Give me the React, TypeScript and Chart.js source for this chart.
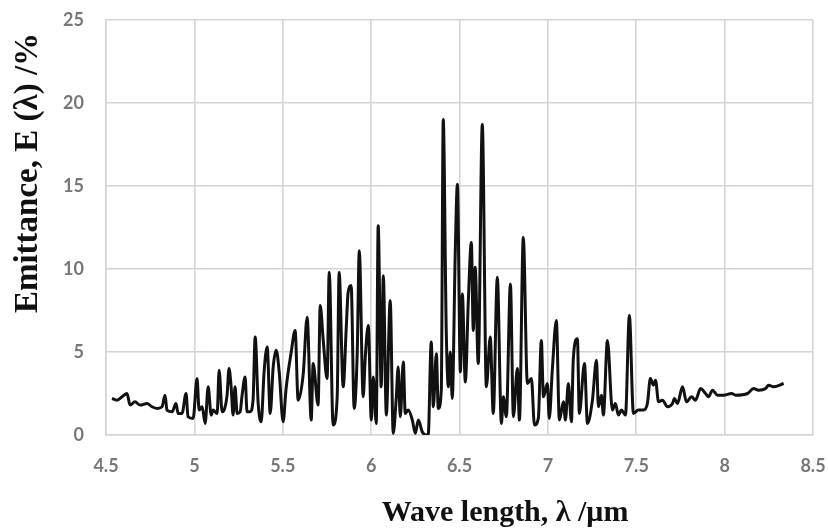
import React, { useEffect, useRef } from "react";
import { Chart, registerables } from "chart.js";

Chart.register(...registerables);

const wavelength: number[] = [
  4.534, 4.562, 4.591, 4.619, 4.636, 4.664, 4.693, 4.732, 4.76, 4.789, 4.817, 4.834, 4.845, 4.874, 4.896, 4.908,
  4.93, 4.953, 4.964, 4.993, 5.015, 5.027, 5.044, 5.061, 5.078, 5.095, 5.106, 5.129, 5.14, 5.157, 5.168, 5.185,
  5.196, 5.208, 5.219, 5.23, 5.242, 5.259, 5.27, 5.287, 5.298, 5.315, 5.332, 5.344, 5.361, 5.378, 5.395, 5.412,
  5.429, 5.446, 5.463, 5.48, 5.502, 5.519, 5.548, 5.57, 5.587, 5.616, 5.638, 5.661, 5.672, 5.7, 5.712, 5.729,
  5.751, 5.763, 5.785, 5.808, 5.819, 5.842, 5.859, 5.87, 5.887, 5.904, 5.921, 5.933, 5.955, 5.967, 5.984, 6.001,
  6.012, 6.029, 6.04, 6.057, 6.069, 6.086, 6.108, 6.125, 6.142, 6.153, 6.165, 6.182, 6.193, 6.21, 6.233, 6.25,
  6.267, 6.289, 6.312, 6.323, 6.34, 6.352, 6.369, 6.38, 6.397, 6.408, 6.425, 6.437, 6.448, 6.459, 6.476, 6.488,
  6.505, 6.516, 6.533, 6.55, 6.567, 6.578, 6.589, 6.606, 6.629, 6.652, 6.674, 6.691, 6.714, 6.737, 6.748, 6.765,
  6.788, 6.805, 6.827, 6.839, 6.861, 6.884, 6.907, 6.924, 6.946, 6.963, 6.975, 6.997, 7.008, 7.025, 7.048, 7.065,
  7.088, 7.099, 7.116, 7.133, 7.144, 7.167, 7.178, 7.207, 7.224, 7.252, 7.275, 7.286, 7.303, 7.314, 7.337, 7.365,
  7.382, 7.399, 7.416, 7.439, 7.461, 7.484, 7.512, 7.541, 7.563, 7.58, 7.597, 7.609, 7.626, 7.648, 7.677, 7.705,
  7.716, 7.733, 7.762, 7.784, 7.813, 7.835, 7.864, 7.892, 7.909, 7.931, 7.96, 7.994, 8.039, 8.062, 8.13, 8.164,
  8.192, 8.232, 8.249, 8.277, 8.334,
];

const emittance: number[] = [
  2.2, 2.1, 2.3, 2.5, 1.8, 2.0, 1.8, 1.9, 1.7, 1.6, 1.7, 2.4, 1.5, 1.4, 1.9, 1.3,
  1.3, 2.5, 1.1, 1.0, 3.4, 1.5, 1.7, 0.7, 2.9, 1.2, 1.5, 1.3, 3.9, 1.4, 1.5, 2.4,
  4.0, 2.9, 1.2, 2.9, 1.3, 1.4, 2.4, 3.5, 1.4, 1.4, 2.1, 5.9, 1.9, 0.8, 3.9, 5.3,
  1.3, 4.1, 5.1, 3.8, 0.8, 2.8, 5.0, 6.3, 2.1, 3.7, 7.1, 0.9, 4.3, 1.8, 7.8, 5.7,
  3.4, 9.8, 0.6, 2.3, 9.8, 2.9, 6.4, 8.6, 9.0, 1.6, 4.8, 11.1, 2.3, 4.7, 6.6, 0.9,
  3.5, 0.7, 12.6, 2.9, 9.6, 1.2, 8.1, 0.1, 2.2, 4.1, 1.1, 4.4, 1.3, 1.5, 0.9, 0.1,
  0.9, 0.2, 0.0, 0.0, 5.6, 1.7, 4.9, 1.6, 2.7, 19.0, 6.3, 2.9, 5.0, 2.2, 11.0, 15.1,
  3.8, 8.5, 3.2, 8.1, 11.6, 6.3, 10.1, 4.3, 18.7, 2.9, 5.9, 1.3, 9.5, 0.7, 2.3, 1.1,
  9.1, 1.1, 4.0, 0.9, 11.9, 3.1, 3.4, 0.6, 1.0, 5.7, 2.3, 3.1, 1.0, 3.9, 6.9, 0.9,
  2.0, 0.9, 3.1, 0.8, 4.6, 5.8, 1.3, 4.3, 0.7, 2.1, 4.5, 1.7, 2.4, 1.2, 5.7, 1.5,
  1.9, 1.2, 1.5, 1.2, 7.2, 1.3, 1.5, 1.5, 1.9, 3.4, 3.0, 3.3, 2.0, 2.1, 1.7, 1.9,
  2.2, 1.9, 2.9, 2.0, 2.3, 2.1, 2.8, 2.5, 2.3, 2.7, 2.4, 2.4, 2.5, 2.4, 2.5, 2.8,
  2.7, 2.8, 3.0, 2.9, 3.1,
];

const xAxisTitle = "Wave length, \u03bb /\u03bcm";
const yAxisTitle = "Emittance, E (\u03bb) /%";

const axisTitlePlugin = {
  id: "axisTitlesCustom",
  afterDraw(chart: any) {
    const ctx = chart.ctx as CanvasRenderingContext2D;
    ctx.save();
    ctx.fillStyle = "#111111";
    ctx.font = "bold 33px 'Liberation Serif', 'Times New Roman', serif";
    ctx.textAlign = "center";
    ctx.textBaseline = "alphabetic";
    ctx.translate(37, 173);
    ctx.rotate(-Math.PI / 2);
    ctx.fillText(yAxisTitle, 0, 0);
    ctx.restore();
    ctx.save();
    ctx.fillStyle = "#111111";
    ctx.font = "bold 30px 'Liberation Serif', 'Times New Roman', serif";
    ctx.textAlign = "center";
    ctx.textBaseline = "alphabetic";
    ctx.fillText(xAxisTitle, 505, 521);
    ctx.restore();
  },
};

const fmt = (v: any) => String(+Number(v).toFixed(2));

export default function App() {
  const ref = useRef<HTMLCanvasElement | null>(null);
  useEffect(() => {
    if (!ref.current) return;
    const points = wavelength.map((x, i) => ({ x, y: emittance[i] }));
    const grid = { color: "#d8d3d0", lineWidth: 1.6, drawTicks: false };
    const tickFont = { family: "Lato, 'Open Sans', sans-serif", size: 18, weight: "bold" as const };
    const chart = new Chart(ref.current, {
      type: "line",
      data: {
        datasets: [
          {
            data: points,
            borderColor: "#111111",
            borderWidth: 3,
            pointRadius: 0,
            cubicInterpolationMode: "monotone",
            fill: false,
          },
        ],
      },
      options: {
        animation: false,
        responsive: false,
        devicePixelRatio: 1,
        layout: { padding: { top: 20, right: 15, left: 0, bottom: 0 } },
        plugins: { legend: { display: false }, tooltip: { enabled: false } },
        scales: {
          x: {
            type: "linear",
            min: 4.5,
            max: 8.5,
            grid,
            border: { color: "#d8d3d0", width: 1.6 },
            ticks: { stepSize: 0.5, color: "#7a7676", font: tickFont, padding: 20, maxRotation: 0, callback: fmt },
            afterFit: (s: any) => {
              s.height = 96;
              s.paddingLeft = 0;
              s.paddingRight = 0;
            },
          },
          y: {
            min: 0,
            max: 25,
            grid,
            border: { color: "#d8d3d0", width: 1.6 },
            ticks: { stepSize: 5, color: "#7a7676", font: tickFont, padding: 22, callback: fmt },
            afterFit: (s: any) => {
              s.width = 106;
              s.paddingTop = 0;
              s.paddingBottom = 0;
            },
          },
        },
      },
      plugins: [axisTitlePlugin],
    });
    return () => chart.destroy();
  }, []);
  return (
    <div style={{ position: "absolute", left: 0, top: 0, width: 828, height: 531, background: "#fff" }}>
      <canvas ref={ref} width={828} height={531} />
    </div>
  );
}
